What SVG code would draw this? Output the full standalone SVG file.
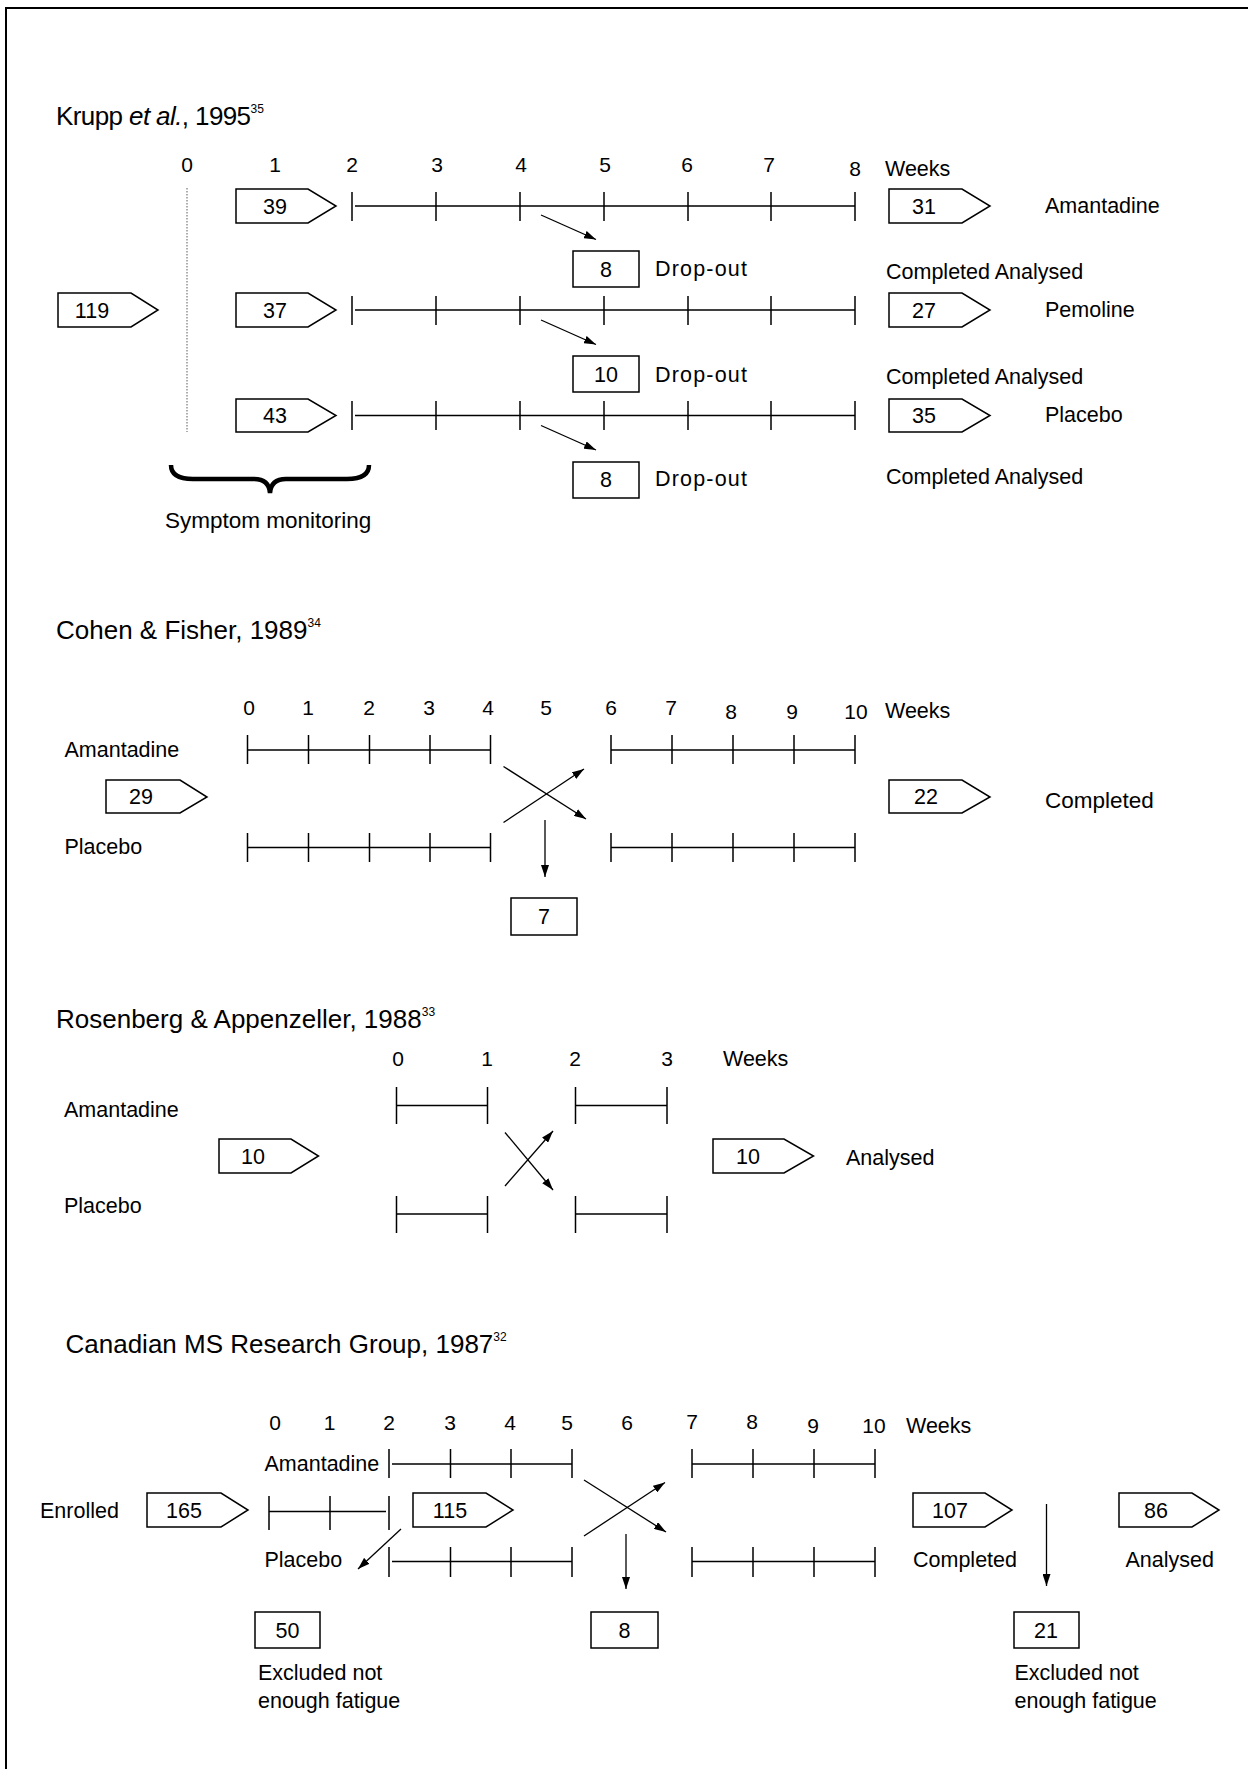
<svg xmlns="http://www.w3.org/2000/svg" width="1248" height="1769" viewBox="0 0 1248 1769">
<defs>
<style>
text{font-family:"Liberation Sans",Arial,sans-serif;fill:#000}
.title{font-size:26px}
.sup{font-size:12px}
.lb{font-size:21.5px}
.lbw{font-size:22.5px}
.wk{font-size:21px;text-anchor:middle}
.num{font-size:21.5px;text-anchor:middle}
.box{fill:#fff;stroke:#000;stroke-width:1.5}
.tl{fill:none;stroke:#000;stroke-width:1.5}
.arr{fill:none;stroke:#000;stroke-width:1.3;marker-end:url(#ah)}
</style>
<marker id="ah" markerUnits="userSpaceOnUse" viewBox="0 0 12 8" refX="12" refY="4" markerWidth="12" markerHeight="8" orient="auto">
<path d="M0,0 L12,4 L0,8 z" fill="#000"/>
</marker>
</defs>
<rect x="0" y="0" width="1248" height="1769" fill="#fff"/>
<path d="M6,1769 V8 H1248" fill="none" stroke="#000" stroke-width="2"/>

<!-- ===== Krupp ===== -->
<text class="title" x="56" y="125" letter-spacing="-0.6">Krupp <tspan font-style="italic">et al.</tspan>, 1995<tspan class="sup" dy="-12" letter-spacing="0">35</tspan></text>
<g id="krupp-weeks">
<text class="wk" x="187" y="172">0</text><text class="wk" x="275" y="172">1</text><text class="wk" x="352" y="172">2</text><text class="wk" x="437" y="172">3</text><text class="wk" x="521" y="172">4</text><text class="wk" x="605" y="172">5</text><text class="wk" x="687" y="172">6</text><text class="wk" x="769" y="172">7</text><text class="wk" x="855" y="176">8</text><text class="lb" x="885" y="176">Weeks</text>
</g>
<line x1="187" y1="188" x2="187" y2="432" stroke="#777" stroke-width="1.2" stroke-dasharray="1.5,1.5"/>
<g id="krupp-timelines">
<path class="tl" d="M355,206 H855 M352,192 V221 M436,192 V221 M520,192 V221 M604,192 V221 M688,192 V221 M771,192 V221 M855,192 V221"/>
<path class="tl" d="M355,310 H855 M352,296 V325 M436,296 V325 M520,296 V325 M604,296 V325 M688,296 V325 M771,296 V325 M855,296 V325"/>
<path class="tl" d="M355,415.5 H855 M352,401 V430 M436,401 V430 M520,401 V430 M604,401 V430 M688,401 V430 M771,401 V430 M855,401 V430"/>
</g>
<g id="k119"><polygon class="box" points="58,293 131,293 158,310 131,327 58,327"/><text class="num" x="92" y="318">119</text></g>
<g id="k39"><polygon class="box" points="236,189 308,189 336,206 308,223 236,223"/><text class="num" x="275" y="213.5">39</text></g>
<g id="k37"><polygon class="box" points="236,293 308,293 336,310 308,327 236,327"/><text class="num" x="275" y="317.5">37</text></g>
<g id="k43"><polygon class="box" points="236,399 308,399 336,415.5 308,432 236,432"/><text class="num" x="275" y="423">43</text></g>
<g id="k31"><polygon class="box" points="889,189 962,189 990,206 962,223 889,223"/><text class="num" x="924" y="213.5">31</text></g>
<g id="k27"><polygon class="box" points="889,293 962,293 990,310 962,327 889,327"/><text class="num" x="924" y="317.5">27</text></g>
<g id="k35"><polygon class="box" points="889,399 962,399 990,415.5 962,432 889,432"/><text class="num" x="924" y="423">35</text></g>
<g id="kd1"><rect class="box" x="573" y="251" width="66" height="36"/><text class="num" x="606" y="276.5">8</text></g>
<g id="kd2"><rect class="box" x="573" y="356" width="66" height="36"/><text class="num" x="606" y="381.5">10</text></g>
<g id="kd3"><rect class="box" x="573" y="462" width="66" height="36"/><text class="num" x="606" y="487">8</text></g>
<g id="krupp-labels">
<text class="lb" x="655" y="276" textLength="92" lengthAdjust="spacing">Drop-out</text>
<text class="lb" x="655" y="381.5" textLength="92" lengthAdjust="spacing">Drop-out</text>
<text class="lb" x="655" y="486" textLength="92" lengthAdjust="spacing">Drop-out</text>
<text class="lb" x="1045" y="213">Amantadine</text>
<text class="lb" x="1045" y="316.5">Pemoline</text>
<text class="lb" x="1045" y="422">Placebo</text>
<text class="lb" x="886" y="279">Completed Analysed</text>
<text class="lb" x="886" y="384">Completed Analysed</text>
<text class="lb" x="886" y="484">Completed Analysed</text>
<text class="lbw" x="165" y="528">Symptom monitoring</text>
</g>
<path d="M171,465 Q171,479 193,479 L254,479 Q269,479 270,493 Q271,479 286,479 L347,479 Q369,479 369,465" fill="none" stroke="#000" stroke-width="4.5"/>

<!-- ===== Cohen ===== -->
<text class="title" x="56" y="639">Cohen &amp; Fisher, 1989<tspan class="sup" dy="-12">34</tspan></text>
<g id="cohen-weeks">
<text class="wk" x="249" y="715">0</text><text class="wk" x="308" y="715">1</text><text class="wk" x="369" y="715">2</text><text class="wk" x="429" y="715">3</text><text class="wk" x="488" y="715">4</text><text class="wk" x="546" y="715">5</text><text class="wk" x="611" y="715">6</text><text class="wk" x="671" y="715">7</text><text class="wk" x="731" y="719">8</text><text class="wk" x="792" y="719">9</text><text class="wk" x="856" y="719">10</text><text class="lb" x="885" y="718">Weeks</text>
</g>
<g id="cohen-timelines">
<path class="tl" d="M247.5,750 H490.5 M247.5,735 V764 M308.5,735 V764 M369.5,735 V764 M430,735 V764 M490.5,735 V764"/>
<path class="tl" d="M611,750 H855 M611,735 V764 M672,735 V764 M733,735 V764 M794,735 V764 M855,735 V764"/>
<path class="tl" d="M247.5,847.5 H490.5 M247.5,833 V862 M308.5,833 V862 M369.5,833 V862 M430,833 V862 M490.5,833 V862"/>
<path class="tl" d="M611,847.5 H855 M611,833 V862 M672,833 V862 M733,833 V862 M794,833 V862 M855,833 V862"/>
</g>
<g id="c29"><polygon class="box" points="106,780 180,780 207,797 180,813 106,813"/><text class="num" x="141" y="804">29</text></g>
<g id="c22"><polygon class="box" points="889,780 962,780 990,797 962,813 889,813"/><text class="num" x="926" y="804">22</text></g>
<g id="c7"><rect class="box" x="511" y="898" width="66" height="37"/><text class="num" x="544" y="923.5">7</text></g>
<text class="lb" x="64.5" y="756.5">Amantadine</text>
<text class="lb" x="64.5" y="854">Placebo</text>
<text class="lbw" x="1045" y="807.5">Completed</text>

<!-- ===== Rosenberg ===== -->
<text class="title" x="56" y="1028">Rosenberg &amp; Appenzeller, 1988<tspan class="sup" dy="-12">33</tspan></text>
<g id="rosen-weeks">
<text class="wk" x="398" y="1066">0</text><text class="wk" x="487" y="1066">1</text><text class="wk" x="575" y="1066">2</text><text class="wk" x="667" y="1066">3</text><text class="lb" x="723" y="1066">Weeks</text>
</g>
<g id="rosen-timelines">
<path class="tl" d="M396.5,1105.5 H487.5 M396.5,1087 V1124 M487.5,1087 V1124 M575.5,1105.5 H667 M575.5,1087 V1124 M667,1087 V1124"/>
<path class="tl" d="M396.5,1214 H487.5 M396.5,1196 V1233 M487.5,1196 V1233 M575.5,1214 H667 M575.5,1196 V1233 M667,1196 V1233"/>
</g>
<g id="r10a"><polygon class="box" points="219,1139 291,1139 318.5,1156 291,1173 219,1173"/><text class="num" x="253" y="1163.5">10</text></g>
<g id="r10b"><polygon class="box" points="713,1139 784,1139 813.5,1156 784,1173 713,1173"/><text class="num" x="748" y="1163.5">10</text></g>
<text class="lb" x="64" y="1116.5">Amantadine</text>
<text class="lb" x="64" y="1213">Placebo</text>
<text class="lb" x="846" y="1165">Analysed</text>

<!-- ===== Canadian ===== -->
<text class="title" x="65.5" y="1352.5">Canadian MS Research Group, 1987<tspan class="sup" dy="-12">32</tspan></text>
<g id="can-weeks">
<text class="wk" x="275" y="1430">0</text><text class="wk" x="329.5" y="1430">1</text><text class="wk" x="389" y="1430">2</text><text class="wk" x="450" y="1430">3</text><text class="wk" x="510" y="1430">4</text><text class="wk" x="567" y="1430">5</text><text class="wk" x="627" y="1430">6</text><text class="wk" x="692" y="1429">7</text><text class="wk" x="752" y="1429">8</text><text class="wk" x="813" y="1433">9</text><text class="wk" x="874" y="1433">10</text><text class="lb" x="906" y="1433">Weeks</text>
</g>
<g id="can-timelines">
<path class="tl" d="M392,1464 H572 M389,1449 V1478 M450.5,1449 V1478 M511,1449 V1478 M572,1449 V1478"/>
<path class="tl" d="M692,1464 H875 M692,1449 V1478 M753,1449 V1478 M814,1449 V1478 M875,1449 V1478"/>
<path class="tl" d="M269,1511.5 H386 M269,1496 V1530 M330,1496 V1530 M389,1496 V1530"/>
<path class="tl" d="M392,1561.5 H572 M389,1547 V1577 M450.5,1547 V1577 M511,1547 V1577 M572,1547 V1577"/>
<path class="tl" d="M692,1561.5 H875 M692,1547 V1577 M753,1547 V1577 M814,1547 V1577 M875,1547 V1577"/>
</g>
<g id="n165"><polygon class="box" points="147,1493 221,1493 248,1510 221,1527 147,1527"/><text class="num" x="184" y="1517.5">165</text></g>
<g id="n115"><polygon class="box" points="413,1493 486,1493 513,1510 486,1527 413,1527"/><text class="num" x="450" y="1517.5">115</text></g>
<g id="n107"><polygon class="box" points="913,1493 985,1493 1012,1510 985,1527 913,1527"/><text class="num" x="950" y="1517.5">107</text></g>
<g id="n86"><polygon class="box" points="1119,1493 1192,1493 1219,1510 1192,1527 1119,1527"/><text class="num" x="1156" y="1517.5">86</text></g>
<g id="n50"><rect class="box" x="255" y="1612" width="65" height="36"/><text class="num" x="287.5" y="1637.5">50</text></g>
<g id="n8"><rect class="box" x="591" y="1612" width="67" height="36"/><text class="num" x="624.5" y="1637.5">8</text></g>
<g id="n21"><rect class="box" x="1014" y="1612" width="65" height="36"/><text class="num" x="1046" y="1637.5">21</text></g>
<g id="can-labels">
<text class="lb" x="40" y="1517.5">Enrolled</text>
<text class="lb" x="264.5" y="1470.5">Amantadine</text>
<text class="lb" x="264.5" y="1566.5">Placebo</text>
<text class="lb" x="913" y="1566.5">Completed</text>
<text class="lb" x="1125.5" y="1566.5">Analysed</text>
<text class="lb" x="258" y="1680">Excluded not</text>
<text class="lb" x="258" y="1708">enough fatigue</text>
<text class="lb" x="1014.5" y="1680">Excluded not</text>
<text class="lb" x="1014.5" y="1708">enough fatigue</text>
</g>

<!-- ===== Connectors ===== -->
<g id="connectors">
<line class="arr" x1="541" y1="215" x2="596" y2="239.5"/>
<line class="arr" x1="541" y1="320" x2="596" y2="344.5"/>
<line class="arr" x1="541" y1="425.5" x2="596" y2="450"/>
<line class="arr" x1="503.5" y1="766.5" x2="586" y2="819"/>
<line class="arr" x1="503.5" y1="822.5" x2="584" y2="769"/>
<line class="arr" x1="545" y1="820" x2="545" y2="877"/>
<line class="arr" x1="505" y1="1132.5" x2="553" y2="1190"/>
<line class="arr" x1="505" y1="1186" x2="553" y2="1131"/>
<line class="arr" x1="401" y1="1529" x2="358" y2="1569"/>
<line class="arr" x1="584" y1="1480" x2="666" y2="1532"/>
<line class="arr" x1="584" y1="1536" x2="665" y2="1482.5"/>
<line class="arr" x1="626" y1="1534" x2="626" y2="1589"/>
<line class="arr" x1="1046.5" y1="1504" x2="1046.5" y2="1586"/>
</g>
</svg>
